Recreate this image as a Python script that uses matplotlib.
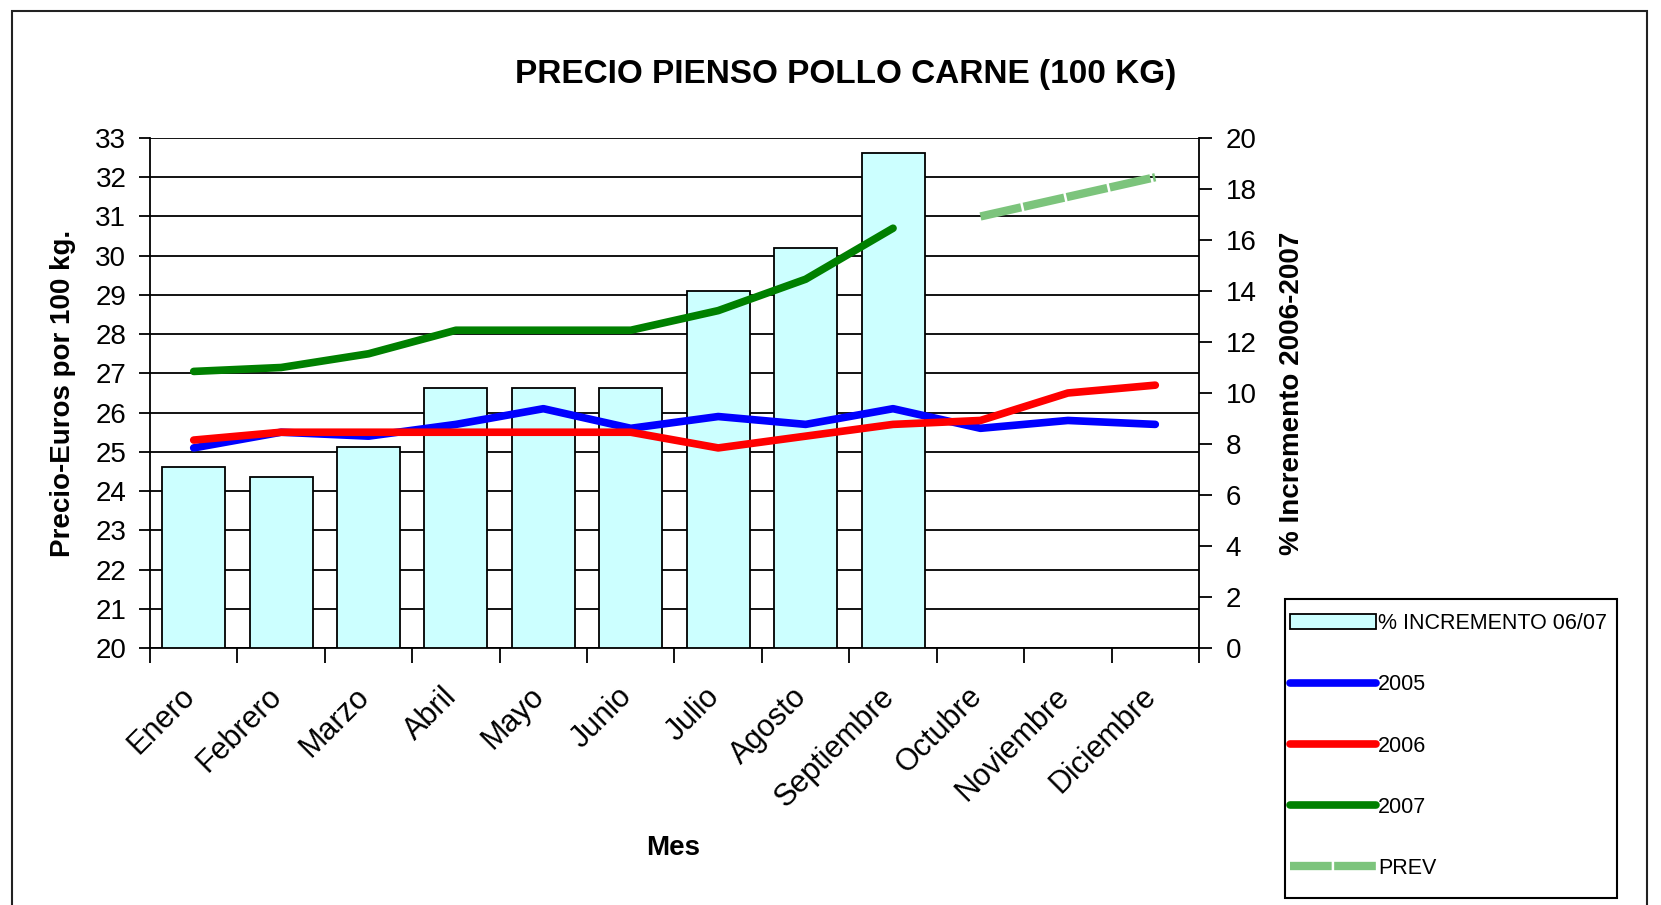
import numpy as np
import matplotlib
matplotlib.use('Agg')
import matplotlib.pyplot as plt
import matplotlib.transforms as mtransforms
from matplotlib.patches import Rectangle

plt.rcParams['font.family'] = ['Liberation Sans', 'DejaVu Sans']

# data
meses = ['Enero', 'Febrero', 'Marzo', 'Abril', 'Mayo', 'Junio', 'Julio',
         'Agosto', 'Septiembre', 'Octubre', 'Noviembre', 'Diciembre']
incremento = [7.1, 6.7, 7.9, 10.2, 10.2, 10.2, 14.0, 15.7, 19.4]   # % 06/07
p2005 = [25.1, 25.5, 25.4, 25.7, 26.1, 25.6, 25.9, 25.7, 26.1, 25.6, 25.8, 25.7]
p2006 = [25.3, 25.5, 25.5, 25.5, 25.5, 25.5, 25.1, 25.4, 25.7, 25.8, 26.5, 26.7]
p2007 = [27.05, 27.15, 27.5, 28.1, 28.1, 28.1, 28.6, 29.4, 30.7]
prev = [31.0, 31.5, 32.0]
prev_meses = meses[9:]

W, H = 1661, 905
fig = plt.figure(figsize=(W / 100, H / 100), dpi=100)

# outer frame of the chart
fig.patches.append(Rectangle((12 / W, -0.02), (1647 - 12) / W, 1 - 11 / H + 0.02,
                             transform=fig.transFigure, fill=False,
                             edgecolor='#222222', linewidth=1.5))
# legend box
fig.patches.append(Rectangle((1285 / W, 1 - 898 / H), (1617 - 1285) / W, (898 - 599) / H,
                             transform=fig.transFigure, facecolor='white',
                             edgecolor='black', linewidth=1.5))

rect = [150 / W, 1 - 648 / H, (1199 - 150) / W, (648 - 138) / H]
ax = fig.add_axes(rect)
x = np.arange(len(meses))

# base axes: grid + left scale
ax.set_xlim(-0.5, len(meses) - 0.5)
ax.set_ylim(20, 33)
ax.set_yticks(range(20, 34))
ax.yaxis.grid(True, color='black', linewidth=1.3)
ax.set_axisbelow(True)
ax.tick_params(axis='y', labelsize=20, length=8, width=1.3, pad=9)
ax.set_xticks(np.arange(-0.5, len(meses), 1.0))
ax.set_xticklabels([])
ax.tick_params(axis='x', which='major', length=11, width=1.3)
ax.set_xticks(x, minor=True)
ax.set_xticklabels(meses, minor=True, rotation=45, ha='right',
                   rotation_mode='anchor', fontsize=22)
ax.tick_params(axis='x', which='minor', length=0, pad=24)
shift = mtransforms.ScaledTranslation(-14 / 100, 0, fig.dpi_scale_trans)
for lab in ax.get_xticklabels(minor=True):
    lab.set_transform(lab.get_transform() + shift)
for s in ['top', 'right']:
    ax.spines[s].set_visible(False)
for s in ['left', 'bottom']:
    ax.spines[s].set_linewidth(1.3)

# bars on right scale
axb = ax.twinx()
axb.set_ylim(0, 20)
axb.set_yticks(range(0, 21, 2))
bars = axb.bar(x[:len(incremento)], incremento, width=0.72, color='#CCFFFF',
               edgecolor='black', linewidth=1.3, label='% INCREMENTO 06/07')
axb.tick_params(axis='y', labelsize=20, length=9, width=1.3, pad=10)
axb.spines['top'].set_visible(False)
axb.spines['right'].set_linewidth(1.3)
axb.spines['left'].set_visible(False)
axb.spines['bottom'].set_visible(False)

# lines on left scale
axl = ax.twinx()
axl.set_ylim(20, 33)
axl.set_yticks([])
for s in axl.spines.values():
    s.set_visible(False)
l5, = axl.plot(x, p2005, color='#0000FF', lw=5.5, solid_capstyle='round', label='2005')
l6, = axl.plot(x, p2006, color='#FF0000', lw=5.5, solid_capstyle='round', label='2006')
l7, = axl.plot(x[:len(p2007)], p2007, color='#008000', lw=5.5,
               solid_capstyle='round', label='2007')
lp, = axl.plot([meses.index(m) for m in prev_meses], prev, color='#7cc47c', lw=6,
               linestyle=(0, (5, 0.3)), label='PREV')

ax.set_ylabel('Precio-Euros por 100 kg.', fontsize=20, fontweight='bold', labelpad=14)
axb.set_ylabel('% Incremento 2006-2007', fontsize=20, fontweight='bold', labelpad=16)
fig.text(673 / W, 1 - 848 / H, 'Mes', fontsize=20, fontweight='bold',
         ha='center', va='center')
fig.text(846 / W, 1 - 74 / H, 'PRECIO PIENSO POLLO CARNE (100 KG)', fontsize=24,
         fontweight='bold', ha='center', va='center')

leg = fig.legend([bars, l5, l6, l7, lp],
                 ['% INCREMENTO 06/07', '2005', '2006', '2007', 'PREV'],
                 loc='center left', bbox_to_anchor=(1290 / W, 1 - 746 / H),
                 prop={'size': 15.5},
                 handlelength=4.0, handletextpad=0.1, labelspacing=1.86,
                 borderpad=0, borderaxespad=0, frameon=False)

fig.savefig('out.png', dpi=100)
